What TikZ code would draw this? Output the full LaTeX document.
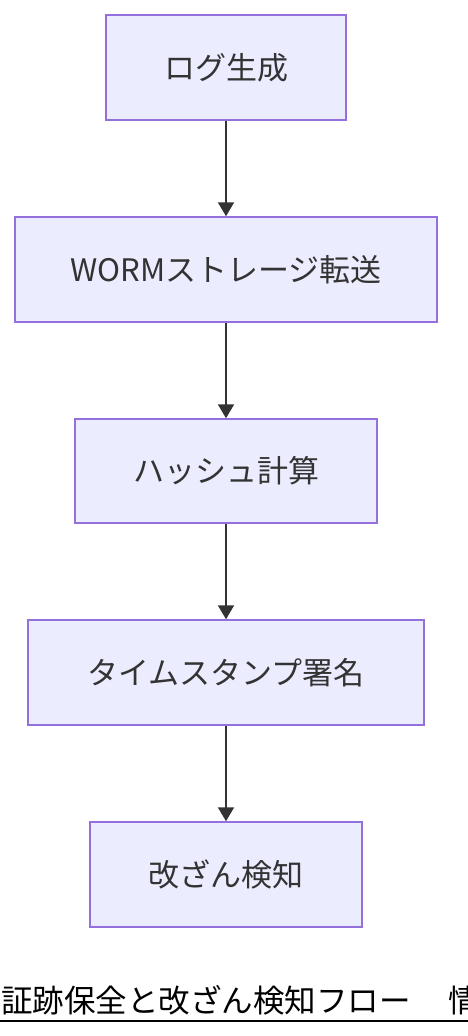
\documentclass[tikz,border=0pt]{standalone}
\usepackage{fontspec}
\setmainfont{Noto Sans CJK JP}
\usetikzlibrary{arrows.meta}
\definecolor{boxfill}{HTML}{ECECFF}
\definecolor{boxline}{HTML}{9370DB}
\definecolor{txt}{HTML}{333333}
\begin{document}
\begin{tikzpicture}[x=1pt,y=-1pt,
  stepbox/.style={draw=boxline,fill=boxfill,line width=1.5pt,rectangle,
    minimum height=105pt,inner sep=0pt,text=txt,font=\fontsize{31}{36}\selectfont},
  flow/.style={draw=txt,line width=2pt,-{Triangle[width=16pt,length=14pt]}}]
\useasboundingbox (0,0) rectangle (468,1036);
\node[stepbox,minimum width=240pt] (a) at (226,67.5) {ログ生成};
\node[stepbox,minimum width=422pt] (b) at (226,269.5) {WORMストレージ転送};
\node[stepbox,minimum width=302pt,minimum height=104pt] (c) at (226,471) {ハッシュ計算};
\node[stepbox,minimum width=396pt] (d) at (226,672.5) {タイムスタンプ署名};
\node[stepbox,minimum width=272pt] (e) at (226,874.5) {改ざん検知};
\draw[flow] (a) -- (b);
\draw[flow] (b) -- (c);
\draw[flow] (c) -- (d);
\draw[flow] (d) -- (e);
\node[anchor=base west,inner sep=0pt,font=\fontsize{31.5}{36}\selectfont] (t) at (1,1012) {証跡保全と改ざん検知フロー\hspace{38pt}情};
\coordinate (ul1) at (0,1021);
\coordinate (ul2) at (468,1021);
\draw[line width=2pt,black] (ul1) -- (ul2);
\end{tikzpicture}
\end{document}
